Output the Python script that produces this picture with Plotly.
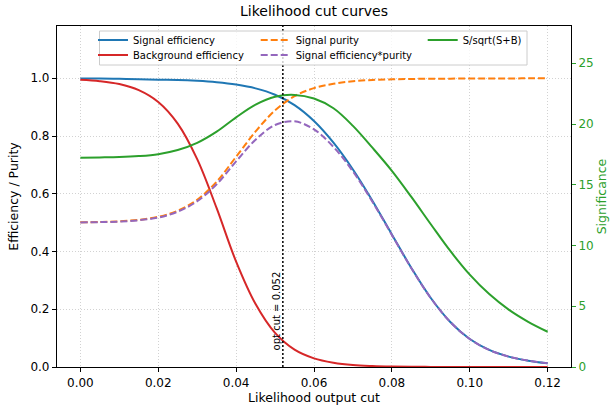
import plotly.graph_objects as go

# ---- data ----
cut = [0.000, 0.005, 0.010, 0.015, 0.020, 0.025, 0.030, 0.035, 0.040, 0.045,
       0.050, 0.055, 0.060, 0.065, 0.070, 0.075, 0.080, 0.085, 0.090, 0.095,
       0.100, 0.105, 0.110, 0.115, 0.120]

sig_eff = [0.999, 0.999, 0.998, 0.997, 0.995, 0.994, 0.991, 0.986, 0.978, 0.965,
           0.943, 0.907, 0.852, 0.777, 0.684, 0.576, 0.459, 0.343, 0.239, 0.156,
           0.097, 0.059, 0.036, 0.022, 0.013]

bkg_eff = [0.995, 0.990, 0.980, 0.959, 0.918, 0.843, 0.720, 0.550, 0.365, 0.218,
           0.118, 0.060, 0.030, 0.015, 0.007, 0.0035, 0.0017, 0.0008, 0.0004, 0.0002,
           0.0001, 0.0, 0.0, 0.0, 0.0]

purity = [0.501, 0.5023, 0.5046, 0.5097, 0.5201, 0.5411, 0.5792, 0.6419, 0.7282, 0.8157,
          0.8888, 0.938, 0.966, 0.981, 0.9899, 0.994, 0.9963, 0.9977, 0.9983, 0.9987,
          0.999, 0.9993, 0.9995, 0.9997, 0.9998]

eff_x_pur = [0.5005, 0.5018, 0.5036, 0.5082, 0.5175, 0.5379, 0.5740, 0.6329, 0.7122, 0.7872,
             0.8381, 0.8508, 0.8230, 0.7622, 0.6771, 0.5725, 0.4573, 0.3422, 0.2386, 0.1558,
             0.0969, 0.0590, 0.0360, 0.0220, 0.0130]

significance = [17.23, 17.25, 17.28, 17.36, 17.52, 17.86, 18.45, 19.37, 20.55, 21.60,
                22.25, 22.40, 22.10, 21.30, 19.85, 18.05, 16.15, 14.00, 11.75, 9.55,
                7.60, 6.00, 4.72, 3.72, 2.90]

opt_cut = 0.052

x_ticks = [0.00, 0.02, 0.04, 0.06, 0.08, 0.10, 0.12]
y_ticks = [0.0, 0.2, 0.4, 0.6, 0.8, 1.0]
y2_ticks = [0, 5, 10, 15, 20, 25]

BLUE, RED, ORANGE, PURPLE, GREEN = "#1f77b4", "#d62728", "#ff7f0e", "#9467bd", "#2ca02c"
FONT = "DejaVu Sans"

# plot-area geometry in pixels (for placing the legend pieces)
W, H = 613, 405
ML, MR, MT, MB = 57, 42, 26, 38
PW, PH = W - ML - MR, H - MT - MB


def px_x(px):
    return (px - ML) / PW


def px_y(py):
    return (H - MB - py) / PH


fig = go.Figure()

spl = dict(shape="spline", smoothing=1.0)
fig.add_trace(go.Scatter(x=cut, y=sig_eff, mode="lines", name="Signal efficiency",
                         line=dict(color=BLUE, width=2, **spl), legend="legend"))
fig.add_trace(go.Scatter(x=cut, y=bkg_eff, mode="lines", name="Background efficiency",
                         line=dict(color=RED, width=2, **spl), legend="legend2"))
fig.add_trace(go.Scatter(x=cut, y=purity, mode="lines", name="Signal purity",
                         line=dict(color=ORANGE, width=2, dash="7px,3px", **spl), legend="legend3"))
fig.add_trace(go.Scatter(x=cut, y=eff_x_pur, mode="lines", name="Signal efficiency*purity",
                         line=dict(color=PURPLE, width=2, dash="7px,3px", **spl), legend="legend4"))
fig.add_trace(go.Scatter(x=cut, y=significance, mode="lines", name="S/sqrt(S+B)",
                         line=dict(color=GREEN, width=2, **spl), yaxis="y2", legend="legend5"))

# optimal cut line
fig.add_shape(type="line", x0=opt_cut, x1=opt_cut, y0=0, y1=1, xref="x", yref="paper",
              line=dict(color="black", width=1.5, dash="2px,2px"))
fig.add_annotation(x=opt_cut, y=0.05, xref="x", yref="y", text="opt cut = 0.052",
                   textangle=-90, xanchor="right", yanchor="bottom", showarrow=False,
                   font=dict(family=FONT, size=10, color="black"), xshift=1)

# legend frame
fig.add_shape(type="rect", xref="paper", yref="paper",
              x0=px_x(99.5), x1=px_x(527), y0=px_y(65), y1=px_y(31),
              fillcolor="rgba(255,255,255,0.8)", line=dict(color="#cccccc", width=1),
              layer="above")

grid = dict(showgrid=True, gridcolor="#d2d2d2", griddash="1px,2px", gridwidth=1)

col_px = [93, 93, 255.7, 255.7, 422.7]
row_px = [40, 55, 40, 55, 40]
legends = {}
for i, (cx, cy) in enumerate(zip(col_px, row_px)):
    key = "legend" if i == 0 else f"legend{i + 1}"
    legends[key] = dict(x=px_x(cx), xanchor="left", y=px_y(cy), yanchor="middle",
                        bgcolor="rgba(0,0,0,0)", borderwidth=0,
                        font=dict(family=FONT, size=10, color="black"), itemwidth=30)

fig.update_layout(
    width=W, height=H,
    margin=dict(l=ML, r=MR, t=MT, b=MB),
    paper_bgcolor="white", plot_bgcolor="white",
    font=dict(family=FONT, size=12, color="black"),
    title=dict(text="Likelihood cut curves", x=0.5, xref="paper", y=0.985, yanchor="top",
               font=dict(family=FONT, size=14, color="black")),
    xaxis=dict(range=[-0.006, 0.126], tickvals=x_ticks, tickformat=".2f",
               ticks="outside", ticklen=4, tickwidth=1, tickcolor="black",
               showline=True, linecolor="black", linewidth=1.2, mirror=True,
               zeroline=False, automargin=False,
               title=dict(text="Likelihood output cut", standoff=3, font=dict(size=12.5)),
               tickfont=dict(size=12), **grid),
    yaxis=dict(range=[0, 1.181], tickvals=y_ticks, tickformat=".1f",
               ticks="outside", ticklen=4, tickwidth=1, tickcolor="black",
               showline=True, linecolor="black", linewidth=1.2, mirror=True,
               zeroline=False, automargin=False,
               title=dict(text="Efficiency / Purity", standoff=9, font=dict(size=12.5)),
               tickfont=dict(size=12), **grid),
    yaxis2=dict(range=[0, 28.07], tickvals=y2_ticks, overlaying="y", side="right",
                ticks="outside", ticklen=4, tickwidth=1, tickcolor=GREEN,
                showline=False, showgrid=False, zeroline=False, automargin=False,
                tickfont=dict(size=12, color=GREEN),
                title=dict(text="Significance", font=dict(size=12.5, color=GREEN), standoff=4)),
    showlegend=True,
    **legends,
)

fig.write_html("out.html", config={"displayModeBar": False},
               post_script="document.body.style.margin='0';")
